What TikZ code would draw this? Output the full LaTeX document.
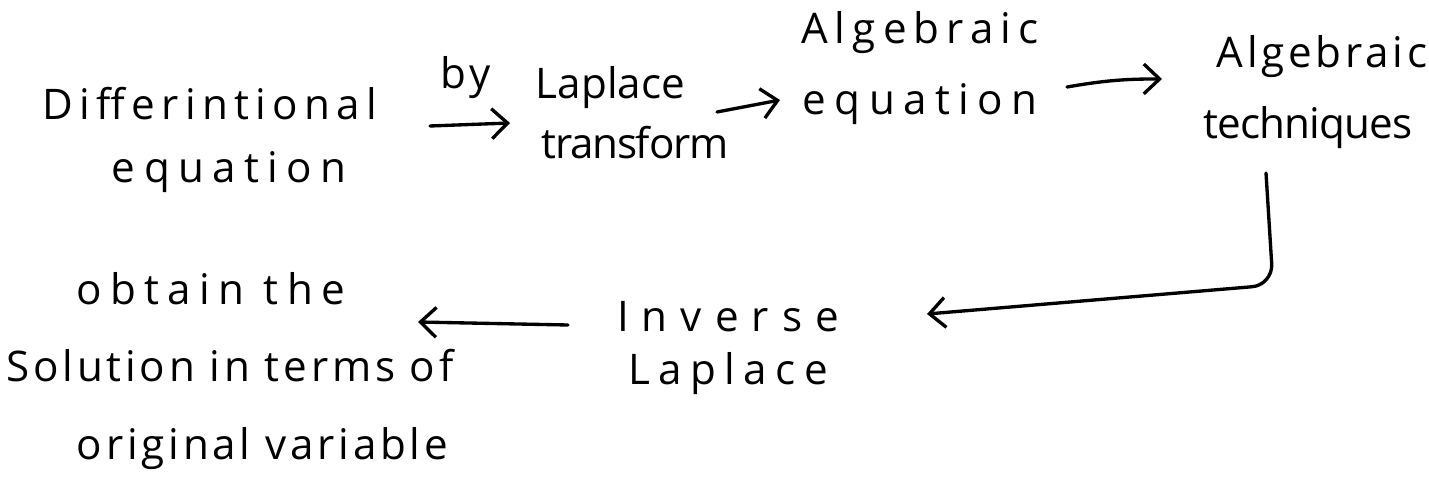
\documentclass[tikz,border=0pt]{standalone}
\usepackage{fontspec}
\setmainfont{Open Sans}[LetterSpace=10]
\usetikzlibrary{arrows.meta}
\newcommand{\lsp}[2]{{\addfontfeatures{LetterSpace=#1}#2}}
\tikzset{
  hand/.style={font=\fontsize{24}{34}\selectfont, align=center, inner sep=0pt, text=black},
  arr/.style={line width=1.9pt, line cap=round, -{Straight Barb[length=9pt,width=17pt,line width=1.9pt]}}
}
\begin{document}
\begin{tikzpicture}[x=0.02cm,y=-0.02cm]
\useasboundingbox[fill=white] (0,0) rectangle (1429,482);
\node[hand, font=\fontsize{24}{36}\selectfont] (diff) at (210,140) {\lsp{15}{Differintional}\\\hspace*{22pt}\lsp{20}{equation}};
\node[hand] (lap) at (635,113) {\lsp{0}{Laplace}\hspace*{28pt}\\\lsp{-3}{transform}};
\node[hand, font=\fontsize{24}{40}\selectfont] (algeq) at (920,68) {\lsp{17}{Algebraic}\\\lsp{20}{equation}};
\node[hand, font=\fontsize{24}{40}\selectfont] (algtech) at (1308,92) {\lsp{9}{Algebraic}\hspace*{-16pt}\\\lsp{-2}{techniques}};
\node[hand, font=\fontsize{24}{30}\selectfont] (inv) at (728,348) {\lsp{31}{Inverse}\\\lsp{20}{Laplace}};
\node[hand, font=\fontsize{24}{44}\selectfont] (sol) at (230,371) {\lsp{20}{obtain the}\hspace*{22pt}\\\lsp{9}{Solution in terms of}\\\hspace*{37pt}\lsp{9}{original variable}};
\draw[arr] ([shift={(220,-14)}]diff.center) -- node[hand, above=14pt, pos=0.45] (by) {by} ([shift={(-125,10)}]lap.center);
\draw[arr] ([shift={(82,-1)}]lap.center) -- ([shift={(-140,32)}]algeq.center);
\draw[arr] ([shift={(147,19)}]algeq.center) to[bend left=5] ([shift={(-146,-13)}]algtech.center);
\draw[arr, rounded corners=12] ([shift={(-42,81)}]algtech.center) -- ++(7,112) -- ([shift={(199,-34)}]inv.center);
\draw[arr] ([shift={(-160,-23)}]inv.center) -- ([shift={(188,-49)}]sol.center);
\end{tikzpicture}
\end{document}
